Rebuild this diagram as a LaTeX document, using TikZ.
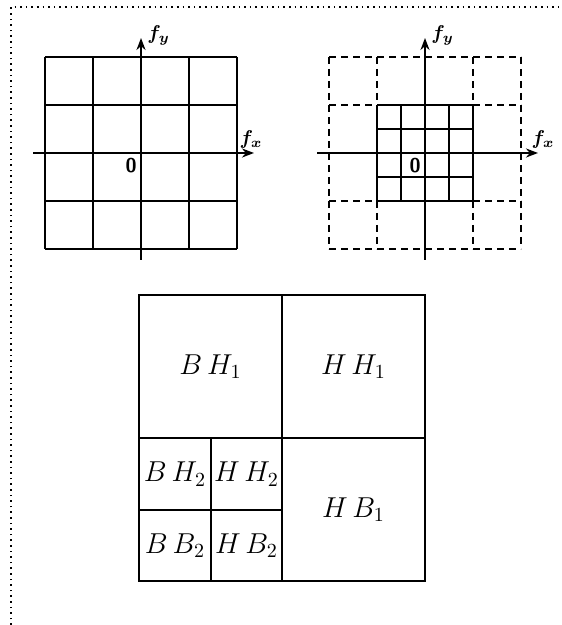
\documentclass[tikz,border=0pt]{standalone}
\usetikzlibrary{arrows.meta}
\begin{document}
\begin{tikzpicture}[x=.5pt,y=-.5pt,>=Stealth,font=\small]
  \tikzset{
    gridline/.style={line width=1.1pt},
    dashline/.style={line width=1.1pt,dash pattern=on 3.5pt off 2.5pt},
    axis/.style={line width=1.1pt,-{Stealth[length=6pt,width=4.5pt]}},
    cell/.style={inner sep=0pt,outer sep=0pt,font=\Large},
    lab/.style={inner sep=1pt,font=\normalsize\boldmath},
    zero/.style={font=\normalsize\sffamily\bfseries,anchor=north east,inner sep=1pt},
  }
  \useasboundingbox (0,0) rectangle (561,625);
  \draw[dotted,line width=.8pt] (11,625) -- (11,7) -- (561,7);

  \begin{scope}[shift={(141,153)}]
    \foreach \v in {-96,-48,0,48,96} {
      \draw[gridline] (\v,-96) -- (\v,96);
      \draw[gridline] (-96,\v) -- (96,\v);
    }
    \coordinate (lxs) at (-108,0);
    \coordinate (lxe) at (113,0);
    \coordinate (lys) at (0,107);
    \coordinate (lye) at (0,-115);
    \draw[axis] (lxs) -- (lxe);
    \draw[axis] (lys) -- (lye);
    \node[lab,anchor=south] (lfx) at (110,-2) {$f_x$};
    \node[lab,anchor=west] (lfy) at (4,-118) {$f_y$};
    \node[zero] (lzero) at (-2,3) {0};
  \end{scope}

  \begin{scope}[shift={(425,153)}]
    \foreach \v in {-96,-48,48,96} {
      \draw[dashline] (\v,-96) -- (\v,96);
      \draw[dashline] (-96,\v) -- (96,\v);
    }
    \foreach \v in {-48,-24,0,24,48} {
      \draw[gridline] (\v,-48) -- (\v,48);
      \draw[gridline] (-48,\v) -- (48,\v);
    }
    \coordinate (rxs) at (-108,0);
    \coordinate (rxe) at (113,0);
    \coordinate (rys) at (0,107);
    \coordinate (rye) at (0,-115);
    \draw[axis] (rxs) -- (rxe);
    \draw[axis] (rys) -- (rye);
    \node[lab,anchor=south] (rfx) at (118,-2) {$f_x$};
    \node[lab,anchor=west] (rfy) at (4,-118) {$f_y$};
    \node[zero] (rzero) at (-2,3) {0};
  \end{scope}

  \node[cell,minimum width=71.5pt,minimum height=71.5pt] (BH1) at (210.5,366.5) {$B\,H_1$};
  \node[cell,minimum width=71.5pt,minimum height=71.5pt] (HH1) at (353.5,366.5) {$H\,H_1$};
  \node[cell,minimum width=71.5pt,minimum height=71.5pt] (HB1) at (353.5,509.5) {$H\,B_1$};
  \node[cell,minimum width=36pt,minimum height=36pt] (BH2) at (175,474) {$B\,H_2$};
  \node[cell,minimum width=35.5pt,minimum height=36pt] (HH2) at (246.5,474) {$H\,H_2$};
  \node[cell,minimum width=36pt,minimum height=35.5pt] (BB2) at (175,545.5) {$B\,B_2$};
  \node[cell,minimum width=35.5pt,minimum height=35.5pt] (HB2) at (246.5,545.5) {$H\,B_2$};
  \draw[gridline] (BH1.north west) rectangle (HB1.south east);
  \draw[gridline] (BH1.north east) -- (HB2.south east);
  \draw[gridline] (BH1.south west) -- (HH1.south east);
  \draw[gridline] (BH2.north east) -- (HB2.south west);
  \draw[gridline] (BH2.south west) -- (HH2.south east);
\end{tikzpicture}
\end{document}
